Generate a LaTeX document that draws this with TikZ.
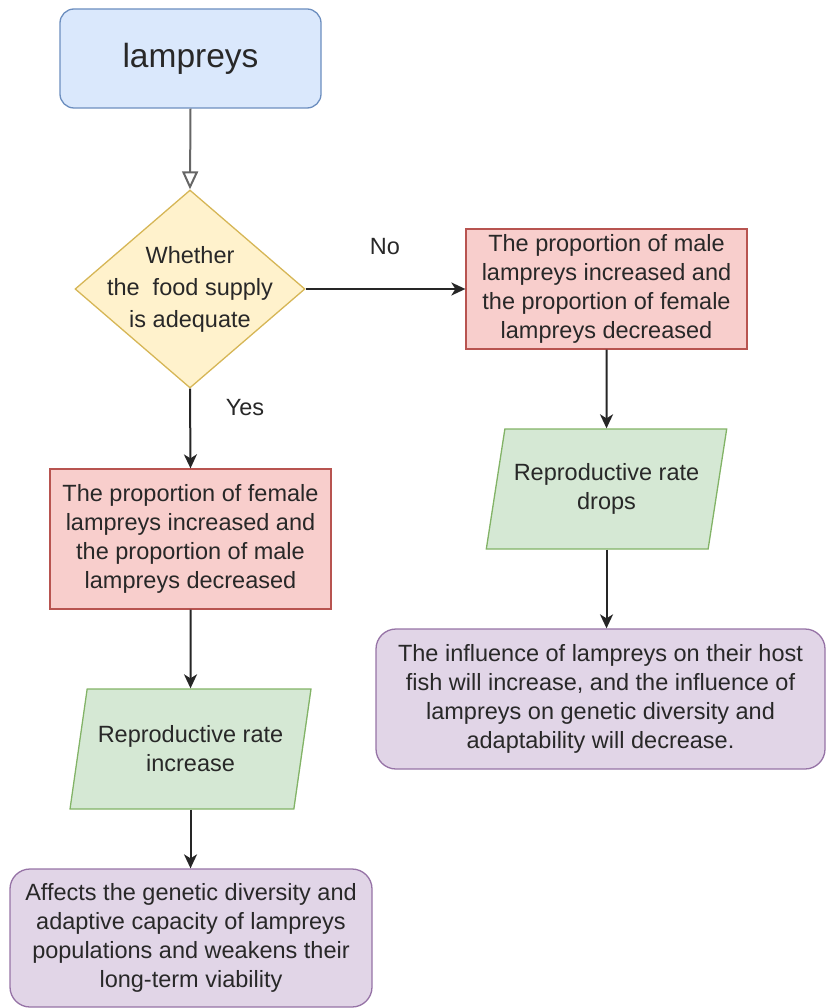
\documentclass[tikz,border=0pt]{standalone}
\usepackage{fontspec}
\setmainfont{Liberation Sans}
\definecolor{startblue}{RGB}{218, 232, 252}
\definecolor{startline}{RGB}{108, 142, 191}
\definecolor{askyellow}{RGB}{255, 242, 204}
\definecolor{askline}{RGB}{214, 182, 86}
\definecolor{ratiored}{RGB}{248, 206, 204}
\definecolor{ratioline}{RGB}{184, 84, 80}
\definecolor{rategreen}{RGB}{213, 232, 212}
\definecolor{rateline}{RGB}{130, 179, 102}
\definecolor{effectpurple}{RGB}{225, 213, 231}
\definecolor{effectline}{RGB}{150, 115, 166}
\definecolor{inkgray}{RGB}{40, 40, 40}
\usetikzlibrary{shapes.geometric, arrows.meta}
\newcommand{\bodyfont}{\fontsize{23.5}{29}\selectfont}
\tikzset{
    flowbox/.style={draw, rectangle, line width=1.3pt, font=\bodyfont, align=center, text=inkgray, inner sep=0pt},
    startbox/.style={flowbox, rounded corners=14pt, fill=startblue, draw=startline, font=\fontsize{33.5}{40}\selectfont},
    askbox/.style={flowbox, diamond, aspect=1.16, inner xsep=-10pt, inner ysep=-7pt, fill=askyellow, draw=askline, font=\fontsize{23.5}{32}\selectfont},
    ratiobox/.style={flowbox, fill=ratiored, draw=ratioline},
    ratebox/.style={flowbox, trapezium, trapezium left angle=71.6, trapezium right angle=108.4, trapezium stretches=true, fill=rategreen, draw=rateline},
    effectbox/.style={flowbox, rounded corners=20pt, fill=effectpurple, draw=effectline},
    flowarrow/.style={-{Stealth[length=14pt, width=13pt, inset=4pt]}, line width=2pt, draw=black!85},
    openarrow/.style={-{Triangle[open, length=18pt, width=16pt]}, line width=2pt, draw=black!60},
    branchlabel/.style={font=\bodyfont, text=inkgray},
}
\begin{document}
\begin{tikzpicture}[x=1pt, y=-1pt]
    \useasboundingbox (0, 0) rectangle (826, 1008);

    % === start and question ===
    \node[startbox, minimum width=261pt, minimum height=99pt] (start) at (190.5, 58.5) {lampreys};
    \node[askbox, minimum width=230pt, minimum height=198pt] (food) at (190, 289) {Whether\\the\ \ food supply\\is adequate};

    % === No branch ===
    \node[ratiobox, minimum width=281pt, minimum height=120pt] (maleup) at (606.5, 289) {The proportion of male\\lampreys increased and\\the proportion of female\\lampreys decreased};
    \node[ratebox, minimum width=241pt, minimum height=120pt] (ratedrop) at (606.5, 489) {Reproductive rate\\drops};
    \node[effectbox, minimum width=449pt, minimum height=140pt] (hostfx) at (600.5, 699) {The influence of lampreys on their host\\fish will increase, and the influence of\\lampreys on genetic diversity and\\adaptability will decrease.};

    % === Yes branch ===
    \node[ratiobox, minimum width=281pt, minimum height=140pt] (femaleup) at (190.5, 539) {The proportion of female\\lampreys increased and\\the proportion of male\\lampreys decreased};
    \node[ratebox, minimum width=241pt, minimum height=120pt] (raterise) at (190.5, 749) {Reproductive rate\\increase};
    \node[effectbox, minimum width=362pt, minimum height=138pt] (genefx) at (191, 938) {Affects the genetic diversity and\\adaptive capacity of lampreys\\populations and weakens their\\long-term viability};

    % labels
    \node[branchlabel] (nolabel) at (385, 247) {No};
    \node[branchlabel] (yeslabel) at (245, 408) {Yes};

    % connectors
    \draw[openarrow] (start.south) -- (food.north);
    \draw[flowarrow] (food.east) -- (maleup.west);
    \draw[flowarrow] (maleup.south) -- (ratedrop.north);
    \draw[flowarrow] (ratedrop.south) -- (hostfx.north -| ratedrop.south);
    \draw[flowarrow] (food.south) -- (femaleup.north);
    \draw[flowarrow] (femaleup.south) -- (raterise.north);
    \draw[flowarrow] (raterise.south) -- (genefx.north -| raterise.south);
\end{tikzpicture}
\end{document}
